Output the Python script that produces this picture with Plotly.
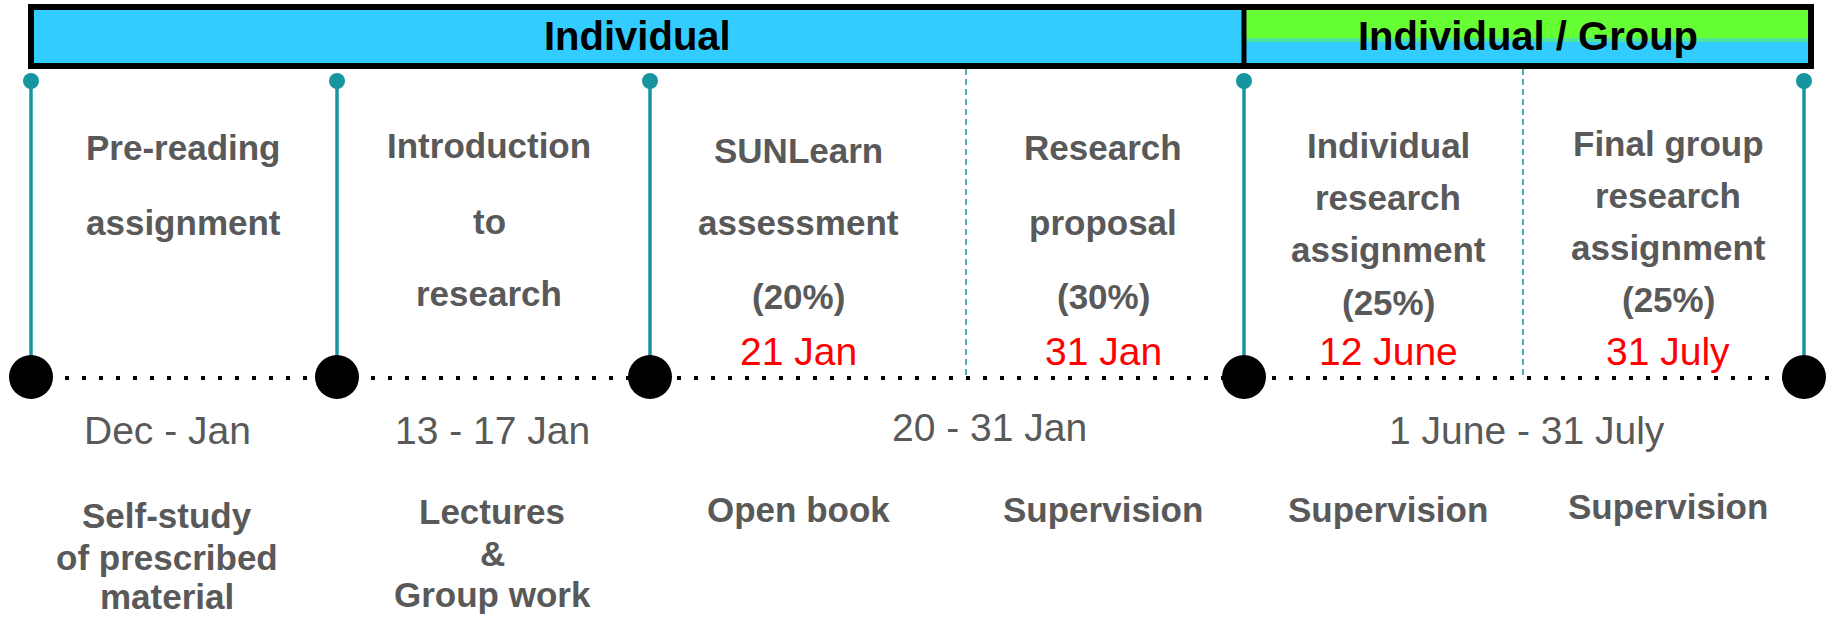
import plotly.graph_objects as go

# ---------------- data (text content) ----------------
phase_labels = ["Individual", "Individual / Group"]

segment_titles = [
    ["Pre-reading", "assignment"],
    ["Introduction", "to", "research"],
    ["SUNLearn", "assessment", "(20%)"],
    ["Research", "proposal", "(30%)"],
    ["Individual", "research", "assignment", "(25%)"],
    ["Final group", "research", "assignment", "(25%)"],
]
due_dates = ["", "", "21 Jan", "31 Jan", "12 June", "31 July"]
period_labels = ["Dec - Jan", "13 - 17 Jan", "20 - 31 Jan", "1 June - 31 July"]
activity_labels = [
    ["Self-study", "of prescribed", "material"],
    ["Lectures", "&", "Group work"],
    ["Open book"],
    ["Supervision"],
    ["Supervision"],
    ["Supervision"],
]

# ---------------- layout constants (pixel space) ----------------
W, H = 1833, 618
milestone_x = [31, 337, 650, 1244, 1804]
divider_x = [966, 1523]
seg_cx = [183, 489, 798, 1103, 1388, 1668]
seg_title_y = [
    [147, 222],
    [145, 221, 293],
    [150, 222, 296],
    [147, 222, 296],
    [145, 197, 249, 302],
    [143, 195, 247, 299],
]
due_y = 351
period_cx = [167, 492, 989, 1527]
period_y = [430, 430, 427, 430]
act_y = [
    [515, 557, 596],
    [511, 553, 594],
    [509],
    [509],
    [509],
    [506],
]
line_y = 377
top_dot_y = 81
bar_top, bar_bot = 7, 66
bar_left, bar_right = 31, 1811

TEAL = "#16959f"
BLUE = "#33CCFF"
GREEN = "#66FF33"
GRAY = "#595959"
RED = "#FF0000"
FONT = "Liberation Sans, Arial, sans-serif"

fig = go.Figure()
shapes = []
annotations = []

# header bar
shapes.append(dict(type="rect", x0=bar_left, x1=milestone_x[3], y0=bar_top, y1=bar_bot,
                   fillcolor=BLUE, line=dict(width=0), layer="below"))
shapes.append(dict(type="rect", x0=milestone_x[3], x1=bar_right, y0=bar_top, y1=38,
                   fillcolor=GREEN, line=dict(width=0), layer="below"))
shapes.append(dict(type="rect", x0=milestone_x[3], x1=bar_right, y0=38, y1=42,
                   fillcolor="#4de599", line=dict(width=0), layer="below"))
shapes.append(dict(type="rect", x0=milestone_x[3], x1=bar_right, y0=42, y1=bar_bot,
                   fillcolor=BLUE, line=dict(width=0), layer="below"))
shapes.append(dict(type="rect", x0=bar_left, x1=bar_right, y0=bar_top, y1=bar_bot,
                   fillcolor="rgba(0,0,0,0)", line=dict(color="black", width=6)))
shapes.append(dict(type="line", x0=milestone_x[3], x1=milestone_x[3], y0=bar_top, y1=bar_bot,
                   line=dict(color="black", width=5)))

# teal vertical milestone lines
for mx in milestone_x:
    shapes.append(dict(type="line", x0=mx, x1=mx, y0=top_dot_y, y1=line_y,
                       line=dict(color=TEAL, width=3.5), layer="below"))
# dashed dividers
for dx in divider_x:
    shapes.append(dict(type="line", x0=dx, x1=dx, y0=bar_bot + 3, y1=line_y,
                       line=dict(color=TEAL, width=1.5, dash="6px,4px"), layer="below"))
# dotted timeline
shapes.append(dict(type="line", x0=milestone_x[0], x1=milestone_x[-1], y0=line_y + 1, y1=line_y + 1,
                   line=dict(color="black", width=4, dash="4px,13px"), layer="below"))

# markers
fig.add_trace(go.Scatter(x=milestone_x, y=[top_dot_y] * len(milestone_x), mode="markers",
                         marker=dict(color=TEAL, size=16, line=dict(width=0)), hoverinfo="skip"))
fig.add_trace(go.Scatter(x=milestone_x, y=[line_y] * len(milestone_x), mode="markers",
                         marker=dict(color="black", size=44, line=dict(width=0)), hoverinfo="skip"))

def ann(x, y, text, size, color, bold=False):
    annotations.append(dict(x=x, y=y, xref="x", yref="y", text=("<b>%s</b>" % text) if bold else text,
                            showarrow=False, xanchor="center", yanchor="middle",
                            font=dict(family=FONT, size=size, color=color)))

# header labels
ann((bar_left + milestone_x[3]) / 2, 36, phase_labels[0], 40, "black", True)
ann((milestone_x[3] + bar_right) / 2, 36, phase_labels[1], 40, "black", True)

# segment titles
for i, lines in enumerate(segment_titles):
    for t, y in zip(lines, seg_title_y[i]):
        ann(seg_cx[i], y, t, 35, GRAY, True)
    if due_dates[i]:
        ann(seg_cx[i], due_y, due_dates[i], 39, RED)

# period labels
for t, x, y in zip(period_labels, period_cx, period_y):
    ann(x, y, t, 39, GRAY)

# activity labels
for i, lines in enumerate(activity_labels):
    for t, y in zip(lines, act_y[i]):
        ann(seg_cx[i] if i > 1 else period_cx[i], y, t, 35, GRAY, True)

fig.update_layout(
    width=W, height=H, margin=dict(l=0, r=0, t=0, b=0),
    paper_bgcolor="white", plot_bgcolor="white", showlegend=False,
    xaxis=dict(range=[0, W], visible=False, fixedrange=True),
    yaxis=dict(range=[H, 0], visible=False, fixedrange=True),
    shapes=shapes, annotations=annotations,
)
fig.write_html("out.html", config={"displayModeBar": False},
               post_script="document.body.style.margin='0';document.body.style.overflow='hidden';")
